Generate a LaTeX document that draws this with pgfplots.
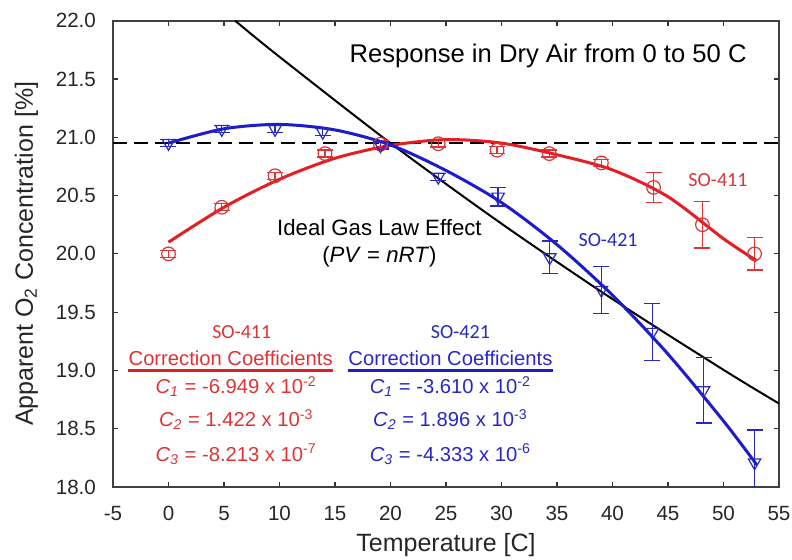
\documentclass[border=0pt]{standalone}
\usepackage{fontspec}
\setmainfont{Liberation Sans}
\newfontfamily\carlito{Carlito}
\usepackage{pgfplots}
\pgfplotsset{compat=1.18}

\definecolor{fitred}{RGB}{228,30,36}
\definecolor{fitblue}{RGB}{28,28,200}
\definecolor{txtred}{RGB}{222,52,52}
\definecolor{txtblue}{RGB}{40,40,195}

\begin{document}
\begin{tikzpicture}
\useasboundingbox (0,0) rectangle (396pt,279.5pt);
\begin{axis}[
  at={(56.5pt,36pt)}, anchor=south west,
  scale only axis, width=333pt, height=233.15pt,
  xmin=-5, xmax=55, ymin=18, ymax=22,
  xtick={-5,0,5,10,15,20,25,30,35,40,45,50,55},
  xticklabels={-5,0,5,10,15,20,25,30,35,40,45,50,55},
  ytick={18,18.5,19,19.5,20,20.5,21,21.5,22},
  yticklabels={18.0,18.5,19.0,19.5,20.0,20.5,21.0,21.5,22.0},
  tick align=inside, major tick length=2.5pt,
  tick style={black!80, line width=0.6pt},
  axis line style={black!75, line width=0.8pt},
  ticklabel style={font=\fontsize{10.3}{12}\selectfont, text=black!85},
  xticklabel style={yshift=-6pt},
  yticklabel style={xshift=-5pt},
  xlabel={Temperature [C]},
  ylabel={Apparent O\textsubscript{2} Concentration [\%]},
  label style={font=\fontsize{12.5}{14}\selectfont, text=black!85},
  xlabel style={at={(axis description cs:0.5,-0.124)}, anchor=center},
  ylabel style={at={(axis description cs:-0.13,0.5)}, anchor=center},
]

% 20.95 % reference level
\addplot[black, line width=1pt, dash pattern=on 7pt off 3.5pt] coordinates {(-5,20.95) (55,20.95)};

% ideal gas law effect
\addplot[black, line width=1pt, smooth] coordinates {
  (6,22.0) (10,21.69) (20,20.95) (30,20.259) (40,19.612) (50,19.005) (55,18.716)
};

% SO-411 data
\addplot[only marks, mark=o, mark size=3.4pt, color=txtred, mark options={line width=0.6pt},
  error bars/.cd, y dir=both, y explicit,
  error bar style={line width=0.7pt},
  error mark options={rotate=90, mark size=4pt, line width=0.7pt}]
coordinates {
  (0,20.00) +- (0,0.03)
  (4.8,20.40) +- (0,0.03)
  (9.6,20.67) +- (0,0.03)
  (14.1,20.86) +- (0,0.03)
  (19.1,20.94) +- (0,0.03)
  (24.3,20.945) +- (0,0.03)
  (29.6,20.89) +- (0,0.03)
  (34.3,20.86) +- (0,0.03)
  (39.0,20.78) +- (0,0.03)
  (43.7,20.57) +- (0,0.13)
  (48.1,20.25) +- (0,0.20)
  (52.8,20.00) +- (0,0.14)
};

% SO-421 data
\addplot[only marks, mark=triangle, mark size=3.6pt, color=txtblue, mark options={rotate=180, line width=0.6pt},
  error bars/.cd, y dir=both, y explicit,
  error bar style={line width=0.7pt},
  error mark options={rotate=90, mark size=4pt, line width=0.7pt}]
coordinates {
  (0,20.95) +- (0,0.03)
  (4.8,21.07) +- (0,0.03)
  (9.6,21.07) +- (0,0.03)
  (13.9,21.045) +- (0,0.03)
  (19.1,20.93) +- (0,0.03)
  (24.3,20.66) +- (0,0.03)
  (29.7,20.49) +- (0,0.08)
  (34.35,19.97) +- (0,0.14)
  (39.0,19.69) +- (0,0.20)
  (43.6,19.33) +- (0,0.245)
  (48.2,18.83) +- (0,0.28)
  (52.8,18.21) +- (0,0.28)
};

% fits
\addplot[fitred, line width=1.5pt, smooth] coordinates {
  (0,20.10) (5,20.40) (10,20.64) (15,20.82) (20,20.93) (25,20.98) (30,20.95)
  (35,20.85) (40,20.72) (45,20.49) (50,20.13) (53,19.94)
};
\addplot[fitblue, line width=1.5pt, smooth] coordinates {
  (0,20.95) (5,21.073) (10,21.11) (15,21.063) (20,20.934) (25,20.715) (30,20.44)
  (35,20.079) (40,19.645) (45,19.14) (50,18.566) (53,18.19)
};

\node[font=\fontsize{12.8}{15}\selectfont] at (axis cs:34.2,21.70) {Response in Dry Air from 0 to 50 C};
\node[font=\fontsize{11.1}{13.3}\selectfont, align=center] at (axis cs:19.0,20.09)
  {Ideal Gas Law Effect\\(\textit{PV} = \textit{nRT})};
\node[font=\carlito\fontsize{10}{12}\selectfont, text=txtred] at (axis cs:49.5,20.63) {SO-411};
\node[font=\carlito\fontsize{10}{12}\selectfont, text=txtblue] at (axis cs:39.6,20.12) {SO-421};

% coefficient blocks
\begin{scope}[every node/.style={anchor=base, inner sep=0pt, font=\fontsize{10.1}{12}\selectfont}]
\node[font=\carlito\fontsize{10}{12}\selectfont, text=txtred] at (axis cs:6.6,19.277) {SO-411};
\node[text=txtred] (ccr) at (axis cs:5.6,19.041) {Correction Coefficients};
\node[text=txtred] at (axis cs:6.1,18.804) {\textit{C\textsubscript{1}} = -6.949 x 10\textsuperscript{-2}};
\node[text=txtred] at (axis cs:6.1,18.518) {\textit{C\textsubscript{2}} = 1.422 x 10\textsuperscript{-3}};
\node[text=txtred] at (axis cs:6.1,18.221) {\textit{C\textsubscript{3}} = -8.213 x 10\textsuperscript{-7}};

\node[font=\carlito\fontsize{10}{12}\selectfont, text=txtblue] at (axis cs:26.3,19.277) {SO-421};
\node[text=txtblue] (ccb) at (axis cs:25.4,19.041) {Correction Coefficients};
\node[text=txtblue] at (axis cs:25.4,18.804) {\textit{C\textsubscript{1}} = -3.610 x 10\textsuperscript{-2}};
\node[text=txtblue] at (axis cs:25.4,18.518) {\textit{C\textsubscript{2}} = 1.896 x 10\textsuperscript{-3}};
\node[text=txtblue] at (axis cs:25.4,18.221) {\textit{C\textsubscript{3}} = -4.333 x 10\textsuperscript{-6}};
\end{scope}
% underlines
\fill[fill=fitred] ([yshift=-1.9pt]ccr.base west) rectangle ([yshift=-3.0pt]ccr.base east);
\fill[fill=fitblue] ([yshift=-1.9pt]ccb.base west) rectangle ([yshift=-3.0pt]ccb.base east);
\end{axis}
\end{tikzpicture}
\end{document}
